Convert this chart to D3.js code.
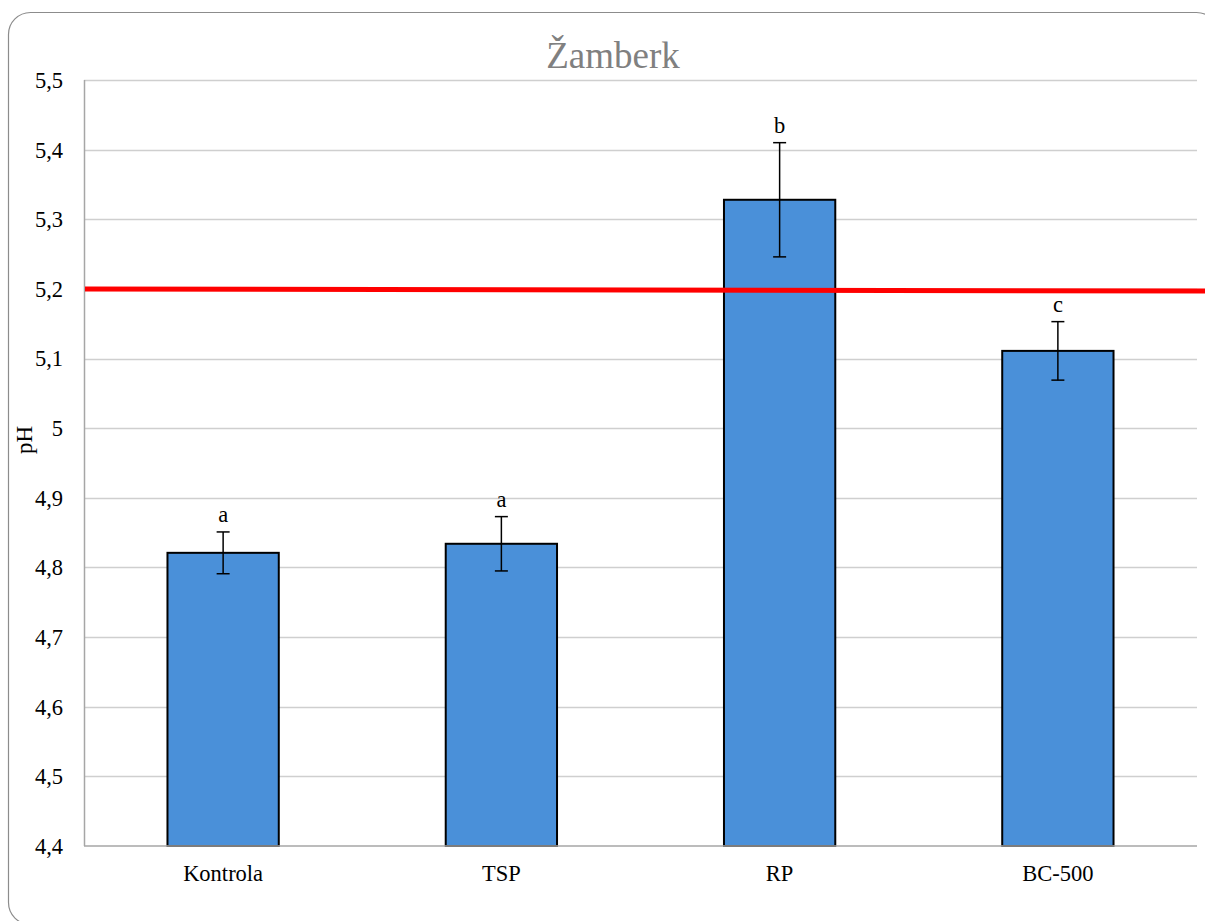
<!DOCTYPE html>
<head>
  <meta charset="utf-8">
  <script src="https://d3js.org/d3.v7.min.js"></script>
  <style>
    body { margin: 0; background: #fff; }
    text { font-family: "Liberation Serif", "Times New Roman", serif; }
  </style>
</head>
<body>
  <div id="chart"></div>
  <script>
    // data
    var categories = ["Kontrola", "TSP", "RP", "BC-500"];
    var means = [4.821, 4.834, 5.328, 5.111];
    var errors = [0.030, 0.039, 0.082, 0.042];
    var letters = ["a", "a", "b", "c"];
    var yTicks = [4.4, 4.5, 4.6, 4.7, 4.8, 4.9, 5.0, 5.1, 5.2, 5.3, 5.4, 5.5];
    var limitLine = [5.2, 5.197]; // left end, right end

    (function() {
      var width = 1205, height = 921;
      var plotLeft = 84, plotRight = 1197, plotTop = 80, plotBottom = 846;

      var svg = d3.select("#chart").append("svg")
        .attr("width", width)
        .attr("height", height)
        .attr("font-family", "'Liberation Serif', 'Times New Roman', serif");

      // rounded frame
      svg.append("rect")
        .attr("x", 8.5).attr("y", 12.5)
        .attr("width", 1210).attr("height", 912)
        .attr("rx", 22).attr("ry", 22)
        .attr("fill", "none")
        .attr("stroke", "#8c8c8c")
        .attr("stroke-width", 1.2);

      var y = d3.scaleLinear().domain([4.4, 5.5]).range([plotBottom, plotTop]);
      var x = d3.scaleBand().domain(categories).range([plotLeft, plotRight])
        .paddingInner(0.6).paddingOuter(0.3);

      // gridlines
      svg.append("g").selectAll("line")
        .data(yTicks.slice(1))
        .enter().append("line")
        .attr("x1", plotLeft).attr("x2", plotRight)
        .attr("y1", function(d) { return Math.round(y(d)) + 0.5; })
        .attr("y2", function(d) { return Math.round(y(d)) + 0.5; })
        .attr("stroke", "#cfcfcf")
        .attr("stroke-width", 1.5);

      // y tick labels
      svg.append("g").selectAll("text")
        .data(yTicks)
        .enter().append("text")
        .attr("x", 63)
        .attr("y", function(d) { return y(d); })
        .attr("dy", "0.35em")
        .attr("text-anchor", "end")
        .attr("font-size", "22.5px")
        .attr("fill", "#000")
        .text(function(d) { return d3.format(".1~f")(d).replace(".", ","); });

      // left axis line
      svg.append("line")
        .attr("x1", plotLeft + 0.5).attr("x2", plotLeft + 0.5)
        .attr("y1", plotTop).attr("y2", plotBottom)
        .attr("stroke", "#a6a6a6").attr("stroke-width", 1.5);

      // bars
      svg.append("g").selectAll("rect")
        .data(means)
        .enter().append("rect")
        .attr("x", function(d, i) { return x(categories[i]); })
        .attr("width", x.bandwidth())
        .attr("y", function(d) { return y(d); })
        .attr("height", function(d) { return plotBottom - y(d); })
        .attr("fill", "#4a90d9")
        .attr("stroke", "#000")
        .attr("stroke-width", 2);

      svg.append("line")
        .attr("x1", plotLeft).attr("x2", plotRight)
        .attr("y1", plotBottom).attr("y2", plotBottom)
        .attr("stroke", "#a6a6a6").attr("stroke-width", 1.5);

      // error bars
      var eb = svg.append("g").attr("stroke", "#000").attr("stroke-width", 1.5);
      means.forEach(function(m, i) {
        var cx = x(categories[i]) + x.bandwidth() / 2;
        var y1 = y(m + errors[i]), y2 = y(m - errors[i]);
        eb.append("line").attr("x1", cx).attr("x2", cx).attr("y1", y1).attr("y2", y2);
        eb.append("line").attr("x1", cx - 6.5).attr("x2", cx + 6.5).attr("y1", y1).attr("y2", y1);
        eb.append("line").attr("x1", cx - 6.5).attr("x2", cx + 6.5).attr("y1", y2).attr("y2", y2);
      });

      // significance letters
      svg.append("g").selectAll("text")
        .data(letters)
        .enter().append("text")
        .attr("x", function(d, i) { return x(categories[i]) + x.bandwidth() / 2; })
        .attr("y", function(d, i) { return y(means[i] + errors[i]) - 10; })
        .attr("text-anchor", "middle")
        .attr("font-size", "22.5px")
        .attr("fill", "#000")
        .text(function(d) { return d; });

      // red limit line
      svg.append("line")
        .attr("x1", plotLeft + 1).attr("x2", width)
        .attr("y1", y(limitLine[0])).attr("y2", y(limitLine[1]))
        .attr("stroke", "#ff0000")
        .attr("stroke-width", 5);

      // x labels
      svg.append("g").selectAll("text")
        .data(categories)
        .enter().append("text")
        .attr("x", function(d) { return x(d) + x.bandwidth() / 2; })
        .attr("y", 881)
        .attr("text-anchor", "middle")
        .attr("font-size", "22.5px")
        .attr("fill", "#000")
        .text(function(d) { return d; });

      // y axis title
      svg.append("text")
        .attr("transform", "translate(32,440) rotate(-90)")
        .attr("text-anchor", "middle")
        .attr("font-size", "23px")
        .attr("fill", "#000")
        .text("pH");

      // title
      svg.append("text")
        .attr("x", 613).attr("y", 68)
        .attr("text-anchor", "middle")
        .attr("font-size", "37px")
        .attr("fill", "#808080")
        .text("Žamberk");
    })();
  </script>
</body>
